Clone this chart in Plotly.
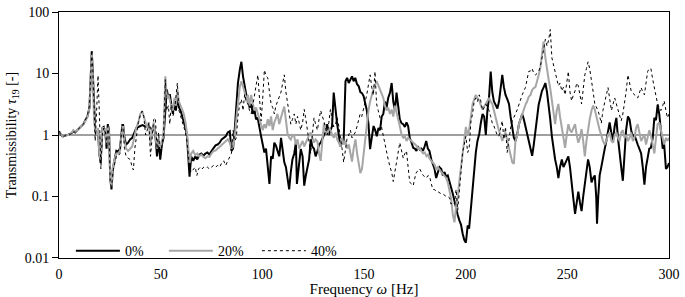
import plotly.graph_objects as go

# ---- data ----
freq_0 = [0,1,2,3,4,5,6,7,8,9,10,11,12,13,14,15,15.6,16.1,16.6,17.2,17.8,18.5,19.2,19.8,20.5,21.3,22.0,22.8,23.4,24.0,24.6,25.2,25.8,26.5,27.3,28.2,29.0,30.0,31.0,31.5,32.2,33.0,34.0,35.0,36.0,37.0,38.0,39.0,40.0,41.0,42.0,43.0,44.0,45.0,46.0,46.8,47.5,48.2,49.0,49.8,50.6,51.4,52.2,53.0,53.8,54.5,55.3,56.0,56.8,57.5,58.2,59.0,59.8,60.6,61.4,62.2,62.9,63.6,64.2,65,66,67,68,69,70,71,72,73,74,75,76,77,78,79,80,81,82,83,84,84.8,85.6,86.4,87.2,88.0,89.0,89.7,90.5,91.3,92.1,92.9,93.7,94.5,95.3,96.1,96.9,97.7,98.5,99.4,100.2,101.0,101.8,102.7,103.5,104.3,105.1,105.9,106.7,107.5,108.3,109.2,110.0,110.8,111.6,112.4,113.2,114.0,114.8,115.7,116.5,117.0,117.8,118.9,119.8,120.6,121.4,122.2,123.0,123.8,124.6,125.4,126.2,127.1,127.9,128.7,129.5,130.3,131.1,131.9,132.7,133.6,134.3,135.1,136.0,136.8,137.6,138.4,139.2,140.0,140.9,141.7,142.5,143.3,144.1,144.9,145.7,146.5,147.4,148.2,149.0,149.8,150.6,151.4,152.2,153.0,153.8,154.7,155.5,156.3,157.1,157.9,158.7,159.5,160.3,161.1,161.9,162.8,163.6,164.4,165.2,166.0,166.8,167.6,168.5,169.3,170.1,170.9,171.7,172.5,173.4,174.2,175.0,175.8,176.6,177.4,178.2,179.0,179.8,180.6,181.4,182.2,183.1,183.9,184.7,185.5,186.3,187.1,188.0,188.8,189.6,190.4,191.2,192.0,192.8,193.7,194.5,195.3,196.1,196.9,197.7,198.5,199.3,200.1,201.0,201.7,202.6,203.4,204.2,205.0,205.8,206.7,207.5,208.3,209.1,209.9,210.7,211.5,212.3,213.1,213.9,214.7,215.6,216.4,217.2,218.0,218.8,219.6,220.5,221.3,222.1,222.9,223.7,224.5,225.3,226.2,227.0,227.8,228.6,229.4,230.2,231.0,231.9,232.7,233.5,234.3,235.1,235.9,236.7,237.5,238.4,239.2,240.0,240.8,241.6,242.4,243.2,244.0,244.8,245.6,246.4,247.3,248.1,248.9,249.7,250.5,251.3,252.1,253.0,253.8,254.6,255.4,256.2,257.0,257.8,258.6,259.4,260.2,261.0,261.9,262.7,263.5,264.2,264.6,265.2,265.9,266.7,267.5,268.4,269.2,270.0,270.8,271.6,272.4,273.3,274.1,274.9,275.7,276.5,277.3,278.1,278.9,279.8,280.6,281.4,282.2,283.0,283.8,284.6,285.4,286.3,287.1,287.9,288.7,289.5,290.3,291.1,292.0,292.8,293.6,294.4,295.2,296.0,296.9,297.6,298.5,299.2,300.0]
tau_0 = [1.15,1.0,0.95,0.97,0.98,1.0,1.05,1.15,1.1,1.2,1.3,1.4,1.5,1.75,2.0,2.8,12,23,11,2.5,1.2,1.0,1.2,0.5,0.35,1.3,1.35,1.1,0.6,1.5,1.2,0.2,0.13,0.28,0.42,0.55,0.53,0.6,1.3,1.5,0.9,0.7,0.75,0.85,0.9,1.1,1.3,1.35,1.4,1.45,1.4,1.35,1.4,1.3,1.2,1.4,0.9,0.45,0.8,0.4,0.7,0.9,2.0,5.5,4.0,4.6,3.0,2.2,3.5,2.5,4.2,2.8,2.5,2.0,1.7,1.3,1.0,0.5,0.21,0.45,0.38,0.45,0.4,0.48,0.5,0.46,0.5,0.52,0.48,0.55,0.6,0.68,0.7,0.75,0.85,0.9,0.95,1.1,1.15,0.55,0.6,1.2,3.2,7,12,15.5,9,6.6,4.5,4.1,2.8,3.2,2.2,2.6,1.8,1.9,1.3,0.95,0.7,0.52,0.6,0.3,0.16,0.45,0.41,0.75,0.67,0.55,0.45,0.9,0.5,0.36,0.3,0.2,0.13,0.25,0.4,0.5,0.75,0.16,0.3,0.59,0.45,0.15,0.22,0.3,0.4,0.85,0.65,0.6,0.45,0.55,0.7,0.75,0.9,1.0,1.1,1.5,1.0,1.2,1.4,4.9,2.4,1.5,1.0,0.65,0.75,0.8,7.5,8.5,7,8,9,7.5,8.5,6.8,6.2,5.0,4.8,4.3,3.2,2.5,1.5,0.59,0.9,1.4,1.2,0.95,1.3,1.2,2.0,2.2,3.5,2.8,4.0,4.9,7.0,3.5,2.5,4.9,3.0,1.8,1.55,1.5,1.35,1.6,1.4,0.9,0.75,0.62,0.6,0.55,0.63,0.58,0.6,0.55,0.65,0.8,0.6,0.55,0.4,0.32,0.28,0.2,0.25,0.3,0.28,0.22,0.25,0.21,0.22,0.18,0.14,0.11,0.084,0.06,0.05,0.041,0.035,0.025,0.0197,0.0177,0.034,0.03,0.07,0.137,0.25,0.52,0.8,1.05,1.6,2.2,2.0,1.0,2.5,4.1,10.8,5,3.5,3.0,2.7,3.5,5.5,9.5,6,4.5,3.8,3.2,2.0,1.2,0.9,0.8,1.0,1.5,1.8,2.2,1.8,1.35,1.0,0.8,0.55,0.46,0.7,1.2,2.0,3.1,4.0,5.2,6.0,7.0,5.0,3.1,1.8,0.95,0.6,0.4,0.3,0.2,0.3,0.4,0.3,0.35,0.4,0.45,0.3,0.155,0.09,0.052,0.08,0.12,0.08,0.058,0.1,0.17,0.25,0.4,0.3,0.17,0.2,0.22,0.1,0.036,0.1,0.22,0.3,0.45,0.6,0.8,1.2,1.6,1.1,0.8,1.4,1.9,0.9,0.45,0.3,0.18,0.5,1.2,2.0,1.8,1.2,0.95,1.0,0.8,0.7,0.6,0.5,0.3,0.155,0.3,0.45,0.6,0.62,0.9,1.9,1.75,3.1,2.2,1.2,0.6,0.72,0.28,0.3,0.35]

freq_20 = [0,1,2,3,4,5,6,7,8,9,10,11,12,13,14,15,15.6,16.1,16.6,17.2,17.8,18.5,19.2,19.8,20.5,21.3,22.0,22.8,23.4,24.0,24.6,25.2,25.8,26.5,27.3,28.2,29.0,30.0,31.0,31.5,32.2,33.0,34.0,35.0,36.0,37.0,38.0,39.0,40.0,40.9,41.7,42.6,43.4,44.2,45.0,45.8,46.6,47.4,48.2,49.0,49.8,50.6,51.4,52.3,53.0,53.8,54.5,55.3,56.0,56.8,57.5,58.2,59.0,59.8,60.6,61.4,62.2,62.9,63.6,64.2,65,66,67,68,69,70,71,72,73,74,75,76,77,78,79,80,81,82,83,84,84.8,85.6,86.4,87.2,88.0,88.9,89.7,90.5,91.3,92.1,92.9,93.7,94.5,95.3,96.1,96.9,97.7,98.5,99.4,100.2,101.0,101.8,102.7,103.5,104.3,105.1,105.9,106.7,107.5,108.3,109.2,110.0,110.8,111.6,112.4,113.2,114.0,114.8,115.7,116.5,117.3,118.1,118.9,119.8,120.6,121.4,122.2,123.0,123.8,124.6,125.4,126.2,127.1,127.9,128.7,129.5,130.3,131.1,131.9,132.7,133.6,134.4,135.2,136.0,136.8,137.6,138.4,139.2,140.0,140.9,141.7,142.5,143.3,144.1,144.9,145.8,146.6,147.4,148.2,149.0,149.8,150.6,151.4,152.2,153.0,153.8,154.6,155.4,156.2,157.0,157.9,158.7,159.5,160.3,161.1,161.9,162.8,163.6,164.4,165.2,166.0,166.8,167.6,168.5,169.3,170.1,170.9,171.7,172.5,173.4,174.2,175.0,175.8,176.6,177.4,178.2,179.1,179.9,180.7,181.5,182.3,183.1,183.9,184.7,185.5,186.3,187.2,188.0,188.8,189.6,190.4,191.2,192.1,192.9,193.7,194.5,195.3,196.1,196.9,197.7,198.5,199.3,200.1,201.0,201.7,202.6,203.4,204.2,205.0,205.8,206.7,207.5,208.3,209.1,209.9,210.7,211.5,212.3,213.1,213.9,214.7,215.5,216.3,217.2,218.0,218.8,219.6,220.5,221.3,222.1,222.9,223.7,224.5,225.4,226.2,227.0,227.8,228.6,229.4,230.2,231.0,231.9,232.7,233.5,234.3,235.1,235.9,236.7,237.5,238.3,239.2,239.9,240.8,241.6,242.4,243.2,244.0,244.8,245.6,246.4,247.3,248.1,248.9,249.7,250.5,251.3,252.1,253.0,253.8,254.6,255.4,256.2,257.0,257.8,258.6,259.4,260.2,261.0,261.9,262.7,263.5,264.3,265.1,265.9,266.7,267.5,268.4,269.2,270.0,270.8,271.7,272.5,273.3,274.1,274.9,275.7,276.5,277.3,278.1,278.9,279.8,280.6,281.4,282.2,283.0,283.8,284.6,285.4,286.3,287.1,287.9,288.7,289.5,290.3,291.1,292.0,292.8,293.6,294.4,295.2,296.0,296.9,297.6,298.5,299.2,300.0]
tau_20 = [1.1,1.0,0.95,0.97,1.0,1.0,1.05,1.2,1.1,1.2,1.3,1.4,1.5,1.7,2.0,2.8,12,22,10,2.0,1.1,1.0,1.3,0.5,0.4,1.3,1.3,1.2,0.7,1.4,1.1,0.2,0.14,0.3,0.4,0.5,0.5,0.55,1.2,1.4,0.8,0.6,0.55,0.6,0.65,0.9,1.3,1.6,2.2,2.45,2.0,1.5,1.3,1.6,0.7,1.2,1.6,1.0,0.6,0.9,0.6,0.8,1.0,9.0,4.0,4.5,3.5,3.0,2.5,4.0,3.0,5.5,3.5,3.0,2.6,2.2,1.6,1.1,0.6,0.35,0.5,0.55,0.47,0.5,0.45,0.48,0.44,0.42,0.45,0.44,0.5,0.55,0.56,0.6,0.65,0.7,0.75,0.8,0.85,0.75,0.6,0.65,0.9,1.8,3.5,6,7.5,6,5,3.5,4.5,3.0,4.5,3.2,2.5,2.8,2.3,1.8,1.4,1.2,1.5,1.3,1.8,1.4,2.0,1.2,1.6,1.9,2.2,1.5,2.0,2.4,2.9,1.8,1.05,0.9,0.84,1.0,0.95,0.7,0.85,0.6,0.7,0.8,0.65,0.75,0.9,1.0,1.1,0.9,0.75,0.85,0.78,0.5,0.38,0.8,1.55,1.2,1.0,1.3,1.2,1.0,0.9,1.1,0.85,0.75,0.65,0.9,0.7,0.8,0.6,0.7,0.5,0.37,0.6,0.85,0.5,0.33,0.24,0.28,0.5,1.0,1.6,2.5,3.5,4.5,5.5,6.5,7.5,6.5,5.5,4.5,4.0,3.0,2.5,2.8,2.2,2.6,2.0,3.0,2.4,1.8,1.4,1.0,0.9,0.95,0.8,0.9,0.85,0.8,0.75,0.7,0.67,0.6,0.62,0.55,0.5,0.52,0.45,0.48,0.41,0.38,0.35,0.33,0.28,0.3,0.27,0.25,0.24,0.22,0.2,0.17,0.12,0.09,0.05,0.038,0.07,0.1,0.18,0.3,0.58,0.9,1.35,1.0,1.2,2.0,3.2,3.8,4.5,4.0,3.6,3.0,2.6,2.9,3.2,3.6,4.0,3.5,3.2,2.5,1.9,1.5,1.2,1.0,0.8,0.95,1.1,0.8,0.6,0.49,0.36,0.34,0.8,1.0,1.5,1.8,2.2,2.5,3.1,3.5,4.2,4.5,5.4,5.8,6.0,7.5,9.6,12,20,33,18,12,8,5.7,3.6,2.7,1.5,2.5,3.2,2.0,1.35,0.9,0.62,1.0,1.5,1.2,1.1,1.3,1.5,1.0,0.75,0.9,1.25,0.8,0.45,0.8,1.25,1.8,2.5,3.0,2.6,2.0,1.4,1.2,1.0,0.8,0.7,0.8,1.0,1.1,0.8,0.75,1.0,1.1,0.9,0.8,1.1,1.2,0.9,1.0,0.8,0.9,1.1,0.8,0.9,1.3,1.5,1.1,0.8,0.9,1.0,0.7,0.9,1.2,1.0,0.7,0.5,0.9,1.5,1.6,1.2,0.8,0.7,0.9,0.8,0.9]

freq_40 = [0,1,2,3,4,5,6,7,8,9,10,11,12,13,14,15,15.6,16.1,16.6,17.2,17.8,18.5,19.2,19.9,20.6,21.3,22.0,22.8,23.4,24.0,24.6,25.2,25.8,26.5,27.3,28.2,29.0,30.0,31.0,31.5,32.2,33.0,34.0,35.0,36.0,36.6,37.3,38.0,39.0,40.0,40.9,41.7,42.6,43.4,44.2,45.0,45.8,46.6,47.4,48.2,49.0,49.8,50.6,51.4,52.3,53.0,53.8,54.5,55.3,56.0,56.8,57.5,58.2,59.0,59.8,60.6,61.4,62.2,62.9,63.6,64.2,65.0,66.0,67.0,67.8,68.6,69.5,70.4,71.2,72.0,73.0,74.0,75.0,76.0,77.0,78.0,79.0,80.0,81.0,82.0,83.0,84.0,84.8,85.6,86.4,87.2,88.0,88.9,89.7,90.5,91.3,92.1,92.9,93.7,94.5,95.3,96.1,96.9,97.8,98.6,99.4,100.2,101.0,101.9,102.7,103.5,104.3,105.1,105.9,106.7,107.5,108.3,109.2,110.0,110.8,111.6,112.4,113.2,114.0,114.8,115.7,116.5,117.3,118.1,118.9,119.8,120.6,121.4,122.2,123.0,123.8,124.6,125.4,126.2,127.1,127.9,128.7,129.5,130.3,131.1,131.9,132.7,133.5,134.3,135.1,136.0,136.8,137.6,138.4,139.2,140.0,140.8,141.6,142.5,143.3,144.1,144.9,145.7,146.5,147.3,148.1,148.9,149.7,150.6,151.4,152.2,153.0,153.8,154.6,155.4,156.2,157.0,157.9,158.7,159.5,160.3,161.1,161.9,162.8,163.6,164.4,165.2,166.0,166.8,167.6,168.5,169.3,170.1,170.9,171.7,172.5,173.4,174.2,175.0,175.8,176.6,177.4,178.2,179.1,179.9,180.7,181.5,182.3,183.1,183.9,184.7,185.5,186.3,187.2,188.0,188.8,189.6,190.4,191.2,192.1,192.8,193.7,194.5,195.3,196.1,196.9,197.7,198.5,199.3,200.1,201.0,201.7,202.6,203.4,204.2,205.0,205.8,206.7,207.5,208.3,209.1,209.9,210.7,211.5,212.3,213.1,213.9,214.7,215.5,216.3,217.2,218.0,218.8,219.6,220.4,221.3,222.1,222.9,223.7,224.5,225.4,226.2,227.0,227.8,228.6,229.4,230.2,231.0,231.9,232.7,233.5,234.3,235.1,235.9,236.7,237.5,238.4,239.2,240.0,240.8,241.6,242.4,243.2,244.0,244.8,245.6,246.4,247.3,248.1,248.9,249.7,250.5,251.3,252.1,253.0,253.8,254.6,255.4,256.2,257.0,257.8,258.6,259.4,260.2,261.0,261.9,262.7,263.5,264.3,265.1,265.9,266.7,267.5,268.4,269.2,270.0,270.8,271.7,272.5,273.3,274.1,274.9,275.7,276.5,277.3,278.1,278.9,279.8,280.6,281.4,282.2,283.0,283.8,284.6,285.4,286.3,287.1,287.9,288.7,289.5,290.3,291.1,292.0,292.8,293.6,294.4,295.2,296.0,296.9,297.6,298.5,299.2,300.0]
tau_40 = [1.1,1.0,0.95,0.97,1.0,1.0,1.05,1.15,1.1,1.2,1.3,1.4,1.5,1.75,2.1,3.0,14,24,12,2.0,0.8,2.5,9.3,2.0,0.28,1.0,1.3,1.2,0.7,1.4,1.0,0.18,0.13,0.25,0.35,0.45,0.45,0.5,1.5,1.3,0.6,0.45,0.42,0.4,0.3,0.27,0.6,1.0,1.6,2.1,2.45,2.0,1.0,1.2,1.6,0.45,1.0,1.8,1.9,0.6,1.1,0.4,0.7,1.0,8.0,2.5,3.0,1.5,3.5,2.0,2.5,4.0,7.0,2.5,2.0,1.6,1.4,1.1,0.8,0.5,0.3,0.25,0.28,0.3,0.22,0.28,0.3,0.28,0.3,0.29,0.3,0.28,0.3,0.32,0.3,0.32,0.3,0.35,0.38,0.32,0.38,0.45,0.5,1.2,0.8,0.9,2.0,3.2,3.8,2.5,4.6,3.5,3.2,2.5,2.2,3.0,4.5,6,9.5,4,1.7,4,11.4,9,8.5,5,3.2,2.8,2.2,3.0,3.5,4.0,5,7,9.5,5,3.2,2.0,1.5,1.8,2.2,1.5,2.0,1.6,1.2,1.6,2.6,1.8,1.2,0.8,0.5,1.0,1.9,1.5,1.2,1.8,2.5,2.0,1.7,1.3,1.0,1.6,2.6,1.8,1.35,1.5,1.9,1.4,0.95,0.6,0.36,0.6,0.85,1.0,1.2,0.9,1.0,1.1,1.35,1.8,2.2,2.0,2.5,3.5,4.6,6.5,9.5,6,4.4,10.8,3.2,2.5,1.9,1.3,0.95,0.7,0.5,0.4,0.3,0.25,0.175,0.25,0.37,0.5,0.75,0.55,0.42,0.5,0.55,0.3,0.17,0.16,0.15,0.2,0.25,0.26,0.28,0.25,0.22,0.21,0.2,0.22,0.21,0.16,0.13,0.13,0.12,0.12,0.115,0.11,0.11,0.105,0.1,0.1,0.095,0.075,0.08,0.075,0.13,0.06,0.11,0.25,0.52,0.75,0.95,0.52,0.6,1.7,2.2,3.6,4.0,3.5,4.5,3.5,2.5,2.8,3.2,2.8,2.5,2.0,1.55,1.4,1.2,1.0,0.95,1.3,1.7,0.85,1.35,0.52,0.95,1.3,1.7,2.0,2.2,2.6,3.2,3.8,4.5,5.2,5.9,8,10.8,11,12,10,9.5,10,10.8,13,17,25,36,28,35,52,18,14,10.8,8,6.3,7,5.2,6,4.5,7,10.8,5,3.6,4.5,5.2,7,6.3,4.5,3.2,5.5,9.5,12,15.5,12,8,5,3.2,2.8,2.5,2.0,1.55,2.5,3.6,4.5,5.9,4,2.5,3.2,4.0,3.2,2.5,2.0,1.7,2.2,3.2,5,9.5,7,5.2,4.8,4.5,4.2,4.0,4.8,5.9,5,4.5,7,10.8,12,12,8,5.9,4,3.2,2.8,2.5,3,3.6,2.5,1.9,2.2]

series_names = ["0%", "20%", "40%"]
x_ticks = [0, 50, 100, 150, 200, 250, 300]
y_ticks = [0.01, 0.1, 1, 10, 100]
y_tick_text = ["0.01", "0.1", "1", "10", "100"]

FONT = "Liberation Serif, Times New Roman, serif"

fig = go.Figure()
fig.add_trace(go.Scatter(x=freq_0, y=tau_0, mode="lines", name=series_names[0],
                         line=dict(color="#000000", width=2)))
fig.add_trace(go.Scatter(x=freq_20, y=tau_20, mode="lines", name=series_names[1],
                         line=dict(color="#a6a6a6", width=2)))
fig.add_trace(go.Scatter(x=freq_40, y=tau_40, mode="lines", name=series_names[2],
                         line=dict(color="#000000", width=1, dash="dot")))

# reference line at 1
fig.add_shape(type="line", xref="paper", x0=0, x1=1, yref="y", y0=1, y1=1,
              line=dict(color="#7f7f7f", width=1.5), layer="below")

fig.update_layout(
    width=685, height=297,
    margin=dict(l=59, r=10, t=5, b=39),
    paper_bgcolor="white", plot_bgcolor="white",
    font=dict(family=FONT, size=14, color="black"),
    showlegend=True,
    legend=dict(orientation="h", x=0.0195, y=0.028, xanchor="left", yanchor="middle",
                bgcolor="rgba(0,0,0,0)", font=dict(family=FONT, size=14),
                entrywidth=34, itemwidth=44, tracegroupgap=0),
    xaxis=dict(range=[0, 300], tickvals=x_ticks, showgrid=False, zeroline=False,
               showline=True, linecolor="black", linewidth=1, mirror=True,
               ticks="outside", ticklen=3, tickcolor="rgba(0,0,0,0)",
               tickfont=dict(family=FONT, size=14), ticklabeloverflow="allow",
               title=dict(text="Frequency <i>ω</i> [Hz]", font=dict(family=FONT, size=15), standoff=0)),
    yaxis=dict(type="log", range=[-2.0004, 2.0004], tickvals=y_ticks, ticktext=y_tick_text,
               showgrid=False, zeroline=False, showline=True, linecolor="black", linewidth=1,
               mirror=True, ticks="outside", ticklen=6, tickcolor="black",
               tickfont=dict(family=FONT, size=14), ticklabeloverflow="allow",
               title=dict(text="Transmissibility <i>τ</i><sub>19</sub> [-]", font=dict(family=FONT, size=14), standoff=4)),
)

fig.write_html("out.html", config={"displayModeBar": False},
               post_script="document.body.style.margin='0px';")
